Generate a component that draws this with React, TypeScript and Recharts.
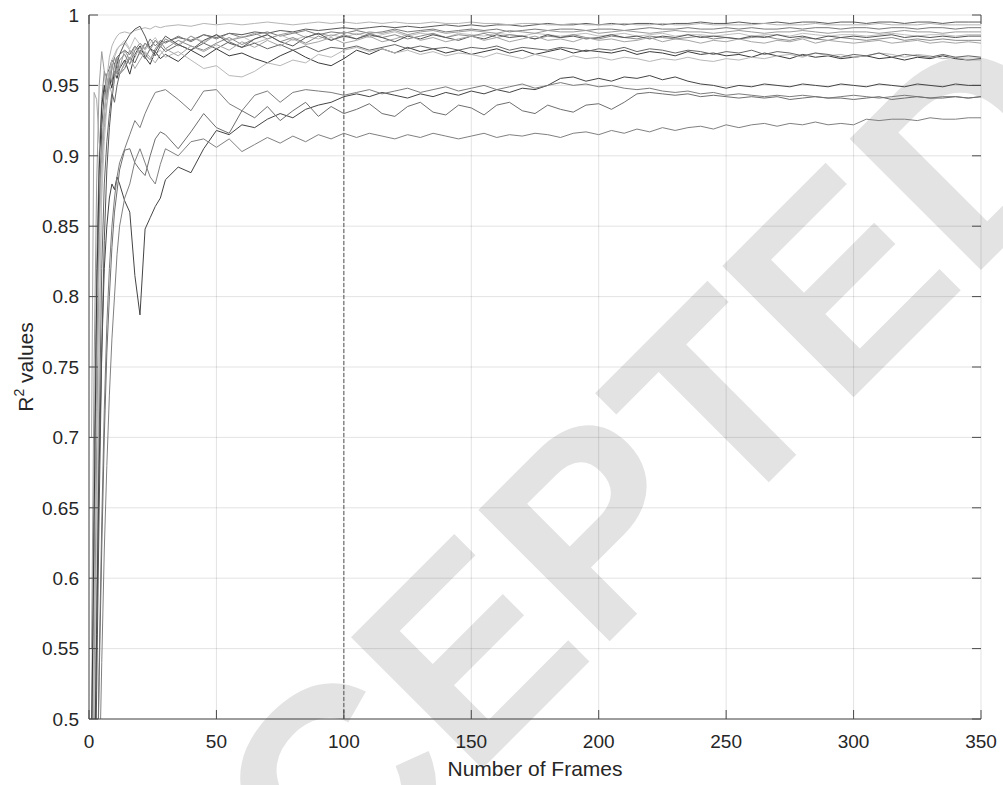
import { LineChart, Line, XAxis, YAxis, CartesianGrid, ReferenceLine } from 'recharts'

// frame numbers at which each run was sampled
const FRAMES = [
  1, 2, 3, 4, 5, 6, 7, 8, 9, 10, 11, 12,
  14, 16, 18, 20, 22, 24, 26, 28,
  30, 35, 40, 45, 50, 55, 60, 65, 70, 75, 80, 85, 90, 95, 100,
  105, 110, 115, 120, 125, 130, 135, 140, 145, 150,
  155, 160, 165, 170, 175, 180, 185, 190, 195, 200,
  205, 210, 215, 220, 225, 230, 235, 240, 245, 250,
  255, 260, 265, 270, 275, 280, 285, 290, 295, 300,
  305, 310, 315, 320, 325, 330, 335, 340, 345, 350,
]

// R² values x 1000, one list per run
const S1 = [
  300, 520, 700, 850, 920, 945, 958, 962, 968, 965, 970, 972,
  975, 972, 978, 974, 980, 977, 982, 979,
  981, 984, 982, 986, 984, 987, 986, 988, 987, 989, 988, 990, 989, 990, 991,
  990, 991, 992, 991, 992, 991, 992, 993, 992, 993,
  992, 993, 993, 992, 993, 994, 993, 993, 994, 993,
  994, 993, 994, 994, 993, 994, 994, 995, 994, 994,
  995, 994, 994, 995, 994, 995, 995, 994, 995, 995,
  994, 995, 995, 994, 995, 995, 994, 995, 995, 995,
]
const S2 = [
  400, 480, 600, 760, 880, 930, 955, 970, 978, 982, 985, 987,
  988, 987, 989, 990, 991, 990, 992, 991,
  992, 993, 992, 994, 993, 994, 993, 994, 995, 994, 993, 994, 995, 994, 995,
  994, 995, 994, 995, 994, 994, 995, 994, 994, 995,
  994, 994, 993, 994, 994, 993, 993, 994, 993, 993,
  993, 994, 993, 993, 994, 993, 993, 994, 993, 993,
  993, 993, 994, 993, 993, 993, 994, 993, 993, 993,
  993, 994, 993, 993, 993, 994, 993, 993, 993, 993,
]
const S3 = [
  450, 600, 740, 860, 905, 930, 948, 960, 952, 965, 958, 968,
  972, 965, 975, 980, 976, 983, 978, 982,
  980, 985, 981, 986, 983, 987, 984, 986, 988, 985, 987, 989, 986, 988, 987,
  989, 987, 988, 990, 988, 989, 990, 988, 989, 990,
  989, 990, 988, 989, 990, 989, 990, 990, 989, 990,
  990, 989, 990, 991, 990, 990, 991, 990, 990, 991,
  990, 991, 990, 990, 991, 990, 991, 991, 990, 991,
  991, 990, 991, 991, 990, 991, 991, 990, 991, 991,
]
const S4 = [
  350, 500, 640, 780, 870, 910, 935, 950, 962, 970, 975, 978,
  982, 976, 984, 979, 975, 980, 984, 978,
  983, 979, 985, 981, 986, 982, 985, 980, 983, 986, 982, 985, 983, 986, 984,
  987, 984, 986, 988, 985, 987, 986, 984, 987, 986,
  985, 987, 986, 985, 987, 986, 985, 986, 987, 985,
  986, 987, 985, 986, 987, 985, 986, 986, 985, 986,
  987, 985, 986, 986, 985, 987, 986, 985, 986, 986,
  985, 986, 987, 986, 985, 986, 986, 985, 986, 986,
]
const S5 = [
  500, 680, 820, 900, 940, 960, 955, 948, 962, 970, 964, 958,
  966, 975, 970, 978, 972, 968, 976, 981,
  976, 982, 978, 975, 980, 984, 979, 983, 986, 981, 984, 980, 985, 982, 986,
  983, 987, 984, 986, 983, 985, 987, 984, 986, 985,
  987, 984, 986, 985, 983, 985, 984, 986, 984, 983,
  985, 984, 983, 985, 984, 983, 984, 985, 983, 984,
  983, 984, 985, 983, 982, 984, 983, 982, 984, 983,
  982, 983, 984, 982, 983, 982, 983, 982, 982, 982,
]
const S6 = [
  480, 640, 800, 890, 935, 950, 942, 955, 948, 960, 955, 962,
  968, 958, 972, 978, 970, 965, 974, 969,
  972, 967, 975, 970, 976, 971, 973, 969, 966, 971, 975, 970, 966, 964, 969,
  975, 972, 976, 973, 977, 974, 976, 973, 975, 972,
  974, 976, 973, 975, 972, 974, 976, 973, 975, 974,
  973, 975, 972, 974, 973, 971, 974, 972, 973, 971,
  972, 970, 973, 971, 969, 972, 970, 971, 969, 970,
  971, 969, 970, 968, 970, 969, 971, 969, 968, 969,
]
const S7 = [
  400, 560, 720, 840, 900, 930, 948, 960, 968, 972, 976, 978,
  980, 975, 971, 977, 973, 968, 972, 975,
  970, 974, 968, 962, 964, 957, 956, 960, 966, 964, 968, 966, 972, 970, 975,
  977, 974, 976, 973, 975, 972, 974, 971, 973, 972,
  970, 973, 971, 969, 972, 970, 968, 971, 969, 970,
  968, 970, 969, 967, 969, 968, 970, 968, 967, 969,
  968, 970, 969, 971, 972, 970, 973, 971, 972, 970,
  971, 973, 972, 970, 972, 971, 969, 970, 968, 968,
]
const S8 = [
  300, 450, 560, 700, 820, 880, 910, 930, 945, 938, 950, 958,
  962, 970, 966, 974, 969, 976, 971, 978,
  974, 979, 975, 980, 976, 981, 977, 980, 976, 979, 975, 978, 974, 977, 976,
  978, 975, 977, 979, 976, 978, 976, 977, 975, 977,
  976, 978, 975, 977, 976, 975, 977, 976, 974, 976,
  975, 977, 974, 976, 975, 973, 975, 974, 972, 974,
  973, 975, 972, 974, 973, 971, 973, 972, 970, 972,
  971, 973, 970, 972, 971, 970, 972, 970, 971, 970,
]
const S9 = [
  300, 420, 560, 680, 760, 820, 850, 870, 880, 876, 885, 880,
  868, 860, 815, 787, 848, 856, 864, 870,
  883, 892, 888, 905, 918, 915, 922, 920, 926, 930, 927, 933, 936, 938, 942,
  944, 942, 945, 943, 941, 944, 942, 945, 943, 946,
  944, 947, 945, 948, 947, 950, 955, 956, 953, 955,
  953, 956, 955, 957, 954, 956, 953, 951, 950, 948,
  950, 949, 951, 950, 949, 951, 950, 949, 951, 950,
  949, 951, 950, 949, 951, 950, 949, 951, 950, 950,
]
const S10 = [
  150, 280, 420, 540, 640, 720, 780, 820, 850, 870, 885, 895,
  905, 915, 925, 920, 930, 938, 945, 946,
  947, 940, 932, 946, 947, 937, 932, 943, 946, 938, 945, 947, 946, 945, 943,
  945, 947, 944, 946, 948, 945, 947, 949, 946, 948,
  950, 947, 949, 951, 948, 950, 952, 950, 951, 949,
  950, 948, 947, 948, 946, 945, 946, 944, 945, 943,
  944, 943, 942, 943, 942, 943, 942, 941, 942, 943,
  942, 941, 942, 943, 942, 941, 942, 942, 941, 942,
]
const S11 = [
  200, 300, 420, 530, 620, 700, 760, 800, 835, 860, 875, 890,
  904, 905, 895, 890, 886, 900, 912, 917,
  915, 905, 917, 930, 920, 916, 932, 927, 935, 925, 932, 938, 928, 935, 930,
  933, 937, 930, 928, 935, 938, 931, 929, 936, 934,
  929, 936, 938, 932, 930, 936, 933, 931, 936, 937,
  933, 938, 944, 945, 944, 943, 944, 942, 943, 942,
  941, 942, 941, 942, 940, 941, 942, 941, 941, 940,
  941, 942, 940, 941, 942, 941, 941, 942, 941, 942,
]
const S12 = [
  150, 250, 350, 450, 540, 620, 680, 730, 770, 800, 830, 850,
  870, 880, 896, 905, 895, 885, 880, 894,
  905, 900, 910, 912, 906, 912, 903, 908, 913, 909, 914, 910, 915, 912, 916,
  913, 916, 914, 912, 915, 913, 916, 914, 912, 914,
  916, 913, 915, 914, 916, 915, 913, 916, 917, 915,
  918, 916, 919, 917, 920, 918, 920, 921, 919, 922,
  920, 922, 923, 921, 923, 922, 924, 922, 923, 922,
  926, 925, 926, 926, 925, 927, 926, 926, 927, 927,
]
const S13 = [
  550, 750, 880, 950, 974, 960, 940, 955, 965, 958, 970, 962,
  975, 968, 978, 972, 980, 975, 982, 977,
  983, 978, 985, 980, 986, 982, 984, 987, 983, 986, 988, 984, 987, 985, 988,
  986, 988, 987, 989, 986, 988, 989, 987, 988, 989,
  988, 987, 989, 988, 987, 989, 988, 988, 989, 987,
  988, 989, 988, 987, 988, 989, 988, 988, 987, 988,
  989, 988, 987, 988, 988, 989, 988, 987, 988, 988,
  988, 987, 988, 989, 988, 988, 987, 988, 988, 988,
]
const S14 = [
  250, 380, 520, 650, 760, 840, 890, 920, 940, 955, 965, 972,
  980, 986, 990, 992, 985, 976, 974, 980,
  985, 979, 975, 982, 986, 980, 977, 983, 986, 981, 978, 984, 987, 982, 985,
  983, 986, 984, 981, 985, 983, 986, 984, 982, 985,
  983, 986, 984, 985, 983, 986, 984, 985, 983, 984,
  986, 984, 985, 983, 985, 984, 986, 984, 985, 984,
  983, 985, 984, 986, 984, 985, 983, 985, 984, 985,
  984, 985, 986, 984, 985, 984, 985, 984, 985, 985,
]
const S15 = [
  700, 945, 940, 910, 895, 920, 938, 950, 944, 955, 962, 958,
  965, 970, 962, 968, 974, 970, 966, 972,
  976, 971, 978, 974, 979, 975, 981, 977, 982, 978, 983, 979, 981, 984, 980,
  982, 985, 981, 983, 986, 982, 984, 981, 983, 985,
  982, 984, 981, 983, 985, 982, 983, 981, 984, 982,
  983, 981, 982, 984, 981, 983, 982, 980, 982, 981,
  983, 981, 980, 982, 981, 983, 980, 982, 981, 980,
  981, 982, 980, 981, 982, 980, 981, 980, 981, 980,
]

const X_TICKS = [0, 50, 100, 150, 200, 250, 300, 350]
const Y_TICKS = [0.5, 0.55, 0.6, 0.65, 0.7, 0.75, 0.8, 0.85, 0.9, 0.95, 1]

const RUNS = [
  { key: 'r1', values: S1, color: '#5a5a5a' },
  { key: 'r2', values: S2, color: '#b4b4b4' },
  { key: 'r3', values: S3, color: '#7a7a7a' },
  { key: 'r4', values: S4, color: '#c0c0c0' },
  { key: 'r5', values: S5, color: '#8a8a8a' },
  { key: 'r6', values: S6, color: '#3a3a3a' },
  { key: 'r7', values: S7, color: '#b8b8b8' },
  { key: 'r8', values: S8, color: '#666666' },
  { key: 'r9', values: S9, color: '#444444' },
  { key: 'r10', values: S10, color: '#7c7c7c' },
  { key: 'r11', values: S11, color: '#6e6e6e' },
  { key: 'r12', values: S12, color: '#808080' },
  { key: 'r13', values: S13, color: '#9c9c9c' },
  { key: 'r14', values: S14, color: '#555555' },
  { key: 'r15', values: S15, color: '#a6a6a6' },
]

const W = 1003
const H = 785
const PLOT = { left: 89, right: 981, top: 15, bottom: 719 }
const TICK_LEN = 9
const AXIS = '#4a4a4a'
const TEXT = '#262626'
const FONT = '"Liberation Sans", Arial, Helvetica, sans-serif'

const data = FRAMES.map((frame, i) => {
  const row: Record<string, number> = { frame }
  RUNS.forEach((r) => {
    row[r.key] = r.values[i] / 1000
  })
  return row
})

const fmtY = (v: number) => String(Number(v.toFixed(2)))

const YTick = (props: any) => {
  const { y, payload } = props
  return (
    <g>
      <line x1={PLOT.left} x2={PLOT.left + TICK_LEN} y1={y} y2={y} stroke={AXIS} />
      <line x1={PLOT.right - TICK_LEN} x2={PLOT.right} y1={y} y2={y} stroke={AXIS} />
      <text
        x={PLOT.left - 10}
        y={y}
        dy="0.36em"
        textAnchor="end"
        fill={TEXT}
        fontSize={19}
        fontFamily={FONT}
      >
        {fmtY(payload.value)}
      </text>
    </g>
  )
}

const XTick = (props: any) => {
  const { x, payload } = props
  return (
    <g>
      <line x1={x} x2={x} y1={PLOT.bottom} y2={PLOT.bottom - TICK_LEN} stroke={AXIS} />
      <line x1={x} x2={x} y1={PLOT.top} y2={PLOT.top + TICK_LEN} stroke={AXIS} />
      <text
        x={x}
        y={PLOT.bottom + 29}
        textAnchor="middle"
        fill={TEXT}
        fontSize={19}
        fontFamily={FONT}
      >
        {payload.value}
      </text>
    </g>
  )
}

export default function App() {
  const midX = (PLOT.left + PLOT.right) / 2
  const midY = (PLOT.top + PLOT.bottom) / 2

  return (
    <div style={{ position: 'absolute', left: 0, top: 0, width: W, height: H, background: '#fff' }}>
      {/* watermark and axis titles sit underneath the chart svg */}
      <svg width={W} height={H} style={{ position: 'absolute', left: 0, top: 0 }}>
        <text
          x={581}
          y={670}
          transform="rotate(-45 581 670)"
          textAnchor="middle"
          fill="#e3e3e3"
          fontSize={270}
          fontWeight={700}
          fontFamily={FONT}
        >
          ACCEPTED
        </text>
        <text x={midX} y={776} textAnchor="middle" fill={TEXT} fontSize={21} fontFamily={FONT}>
          Number of Frames
        </text>
        <text
          x={33}
          y={midY}
          transform={`rotate(-90 33 ${midY})`}
          textAnchor="middle"
          fill={TEXT}
          fontSize={21}
          fontFamily={FONT}
        >
          R<tspan dy={-9} fontSize={14}>2</tspan>
          <tspan dy={9}> values</tspan>
        </text>
      </svg>

      <div style={{ position: 'absolute', left: 0, top: 0 }}>
        <LineChart
          width={W}
          height={H}
          data={data}
          margin={{ top: PLOT.top, right: W - PLOT.right, bottom: 26, left: 29 }}
        >
          <CartesianGrid stroke="#262626" strokeOpacity={0.13} />
          <XAxis
            dataKey="frame"
            type="number"
            domain={[0, 350]}
            ticks={X_TICKS}
            allowDataOverflow
            height={40}
            tickLine={false}
            axisLine={{ stroke: AXIS }}
            tick={<XTick />}
          />
          <XAxis
            xAxisId="top"
            orientation="top"
            type="number"
            domain={[0, 350]}
            height={0}
            tick={false}
            tickLine={false}
            axisLine={{ stroke: AXIS }}
          />
          <YAxis
            type="number"
            domain={[0.5, 1]}
            ticks={Y_TICKS}
            allowDataOverflow
            width={60}
            tickLine={false}
            axisLine={{ stroke: AXIS }}
            tick={<YTick />}
          />
          <YAxis
            yAxisId="right"
            orientation="right"
            type="number"
            domain={[0.5, 1]}
            width={0}
            tick={false}
            tickLine={false}
            axisLine={{ stroke: AXIS }}
          />
          <ReferenceLine x={100} stroke="#555" strokeDasharray="4 2" />
          {RUNS.map((r) => (
            <Line
              key={r.key}
              dataKey={r.key}
              type="linear"
              stroke={r.color}
              strokeWidth={1}
              dot={false}
              isAnimationActive={false}
            />
          ))}
        </LineChart>
      </div>
    </div>
  )
}
